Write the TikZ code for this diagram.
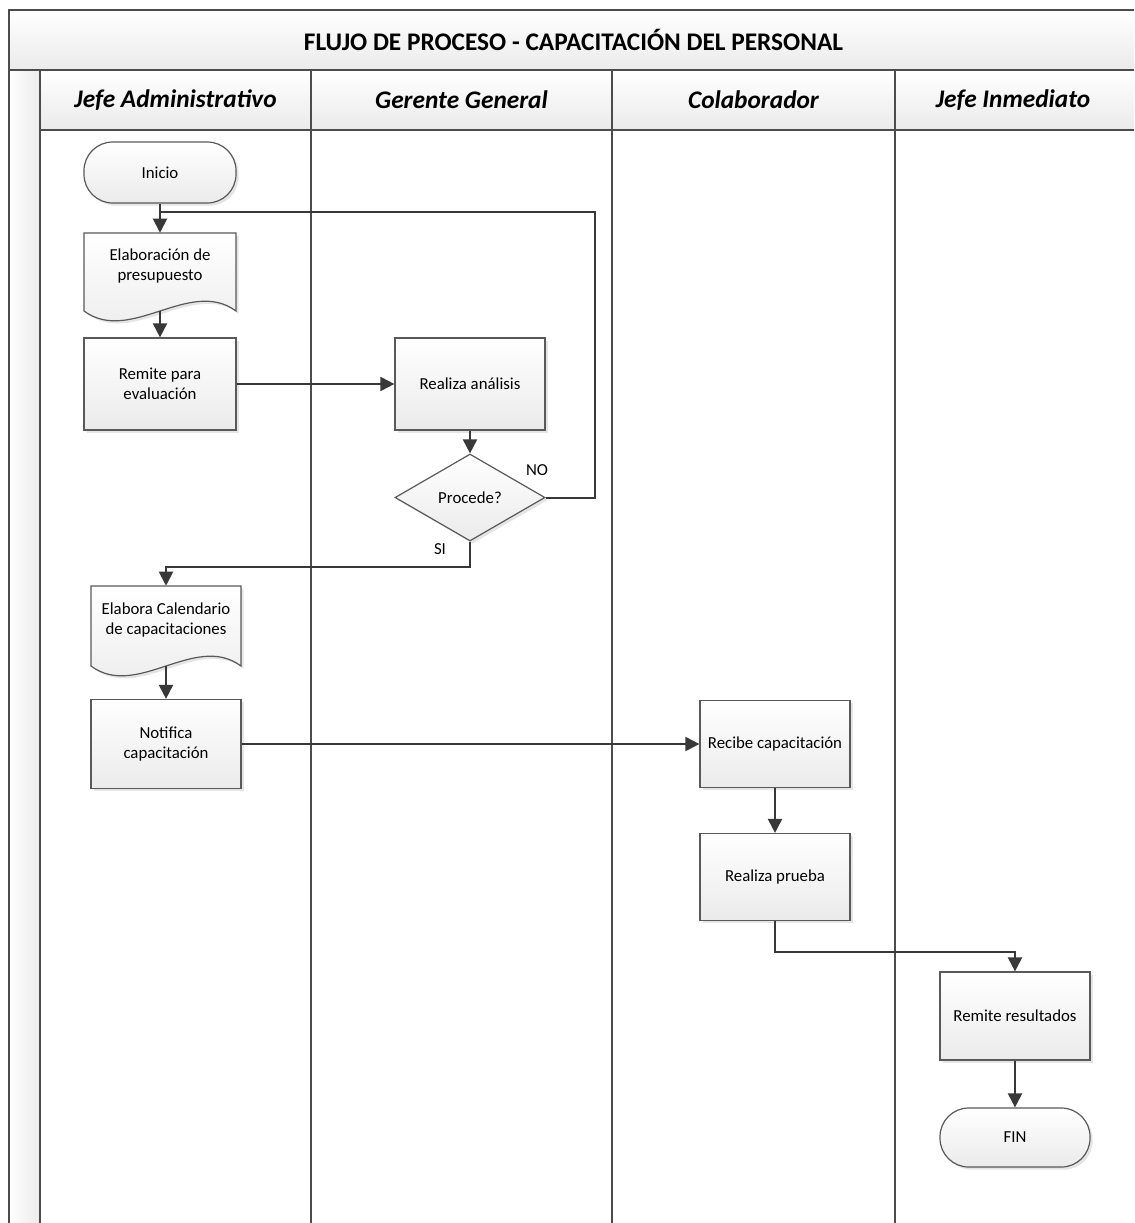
\documentclass[tikz,border=0pt]{standalone}
\usepackage{fontspec}
\setmainfont{Carlito}
\usetikzlibrary{shapes.geometric,arrows.meta,shadows}
\begin{document}
\begin{tikzpicture}[x=0.75pt,y=-0.75pt,
  laneline/.style={draw=black!70,line width=1.4pt},
  titletxt/.style={font=\bfseries\fontsize{19}{23}\selectfont},
  lanetxt/.style={font=\bfseries\itshape\fontsize{19}{23}\selectfont},
  shadowed/.style={drop shadow={shadow xshift=2pt,shadow yshift=-2pt,fill=black,opacity=0.1}},
  proc/.style={draw=black!65,line width=0.9pt,top color=white,bottom color=black!8,
    minimum width=112.5pt,inner sep=2pt,align=center,
    font=\fontsize{12.6}{15}\selectfont,shadowed},
  term/.style={proc,rounded corners=21.5pt},
  decision/.style={proc,diamond,inner sep=0pt},
  docsh/.style={draw=black!65,line width=0.9pt,top color=white,bottom color=black!8,shadowed},
  doctext/.style={align=center,inner sep=2pt,font=\fontsize{12.6}{15}\selectfont},
  lbl/.style={font=\fontsize{12.6}{15}\selectfont,inner sep=1pt},
  conn/.style={draw=black!78,line width=1.5pt},
  arr/.style={conn,-{Triangle[length=10.5pt,width=10.5pt]}}
]
\useasboundingbox (0,0) rectangle (1134,1223);

% swimlane frame
\fill[top color=white,bottom color=black!8] (9,10) rectangle (1134,70);
\fill[top color=white,bottom color=black!8] (40,70) rectangle (1134,130);
\fill[left color=white,right color=black!8] (9,70) rectangle (40,1223);
\draw[laneline] (1134,10) -- (9,10) -- (9,1223);
\draw[laneline] (9,70) -- (1134,70);
\draw[laneline] (40,130) -- (1134,130);
\draw[laneline] (40,70) -- (40,1223);
\draw[laneline] (311,70) -- (311,1223);
\draw[laneline] (612,70) -- (612,1223);
\draw[laneline] (895,70) -- (895,1223);

\node[titletxt] (title) at (573.5,40) {FLUJO DE PROCESO - CAPACITACIÓN DEL PERSONAL};
\node[lanetxt] (l1) at (175.5,100) {Jefe Administrativo};
\node[lanetxt] (l2) at (461.5,100) {Gerente General};
\node[lanetxt] (l3) at (753.5,100) {Colaborador};
\node[lanetxt] (l4) at (1013,100) {Jefe Inmediato};

% shapes
\node[term,minimum width=114pt,minimum height=45.75pt] (inicio) at (160,172.5) {Inicio};

\path[docsh] (84,233) -- (236,233) -- (236,311) .. controls (190,277) and (130,345) .. (84,311) -- cycle;
\node[doctext,minimum width=114pt,minimum height=50.25pt] (elab) at (160,266.5) {Elaboración de\\presupuesto};
\coordinate (elabw) at (160,311);

\node[proc,minimum width=114pt,minimum height=69pt] (remite) at (160,384) {Remite para\\evaluación};
\node[proc,minimum height=69pt] (analisis) at (470,384) {Realiza análisis};
\node[decision,minimum width=112.5pt,minimum height=65.25pt] (dec) at (470,497.5) {Procede?};

\path[docsh] (91,586) -- (241,586) -- (241,666) .. controls (195,632) and (137,700) .. (91,666) -- cycle;
\node[doctext,minimum width=112.5pt,minimum height=51pt] (cal) at (166,620) {Elabora Calendario\\de capacitaciones};
\coordinate (calw) at (166,666);

\node[proc,minimum height=66.75pt] (notif) at (166,744) {Notifica\\capacitación};
\node[proc,minimum height=65.25pt] (recibe) at (775,744) {Recibe capacitación};
\node[proc,minimum height=65.25pt] (prueba) at (775,877) {Realiza prueba};
\node[proc,minimum height=66pt] (remres) at (1015,1016) {Remite resultados};
\node[term,minimum height=44.25pt] (fin) at (1015,1137.5) {FIN};

\node[lbl] (no) at (537,470) {NO};
\node[lbl] (si) at (440,549) {SI};

% connectors
\coordinate (loopTR) at (595,212);
\coordinate (loopJ) at (160,212);
\draw[arr] (inicio) -- (elab);
\draw[conn] (dec.east) -| (loopTR) -- (loopJ);
\draw[arr] (elabw) -- (remite);
\draw[arr] (remite) -- (analisis);
\draw[arr] (analisis) -- (dec);
\draw[arr] (dec.south) -- ++(0,25) -| (cal.north);
\draw[arr] (calw) -- (notif);
\draw[arr] (notif) -- (recibe);
\draw[arr] (recibe) -- (prueba);
\draw[arr] (prueba.south) -- ++(0,31) -| (remres.north);
\draw[arr] (remres) -- (fin);
\end{tikzpicture}
\end{document}
